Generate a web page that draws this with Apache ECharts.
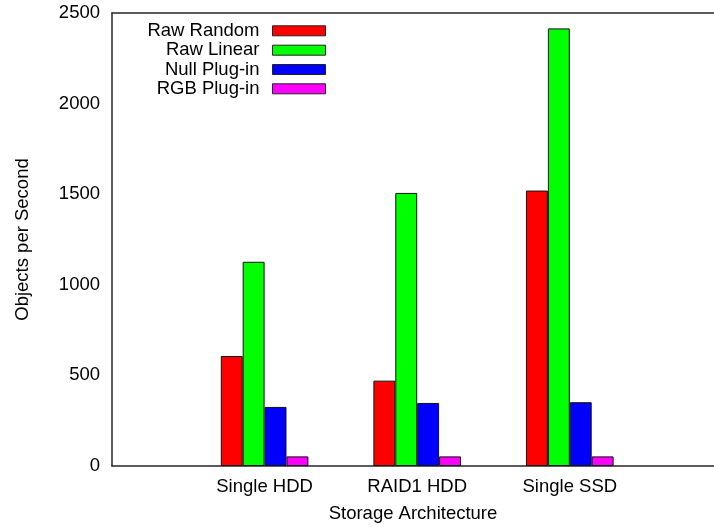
<!DOCTYPE html>
<html>
<head>
<meta charset="utf-8">
<script src="https://cdn.jsdelivr.net/npm/echarts@6/dist/echarts.min.js"></script>
<style>html,body{margin:0;padding:0;background:#fff;}#c{width:714px;height:527px;}</style>
</head>
<body>
<div id="c"></div>
<script>
const categories = ['Single HDD', 'RAID1 HDD', 'Single SSD'];
const seriesNames = ['Raw Random', 'Raw Linear', 'Null Plug-in', 'RGB Plug-in'];
const rawRandom = [607, 471, 1520];
const rawLinear = [1127, 1507, 2415];
const nullPlugin = [326, 348, 352];
const rgbPlugin = [53, 53, 53];
const yTicks = [0, 500, 1000, 1500, 2000, 2500];

const colors = ['#ff0000', '#00ff00', '#0000ff', '#ff00ff'];
const values = [rawRandom, rawLinear, nullPlugin, rgbPlugin];
const FONT = 'Liberation Sans';
const FS = 18.5;
const X_MAX = 3.945;

const chart = echarts.init(document.getElementById('c'), null, {renderer: 'canvas'});
const legendTops = [20.8, 40.2, 59.5, 78.8];
const axisLineStyle = {color: '#262626', width: 1.5};
chart.setOption({
  animation: false,
  backgroundColor: '#ffffff',
  grid: {left: 112, top: 13, right: 0, bottom: 61, show: false, containLabel: false, outerBoundsMode: 'none'},
  legend: seriesNames.map((n, i) => ({
    data: [n], orient: 'vertical', align: 'right', right: 388, top: legendTops[i], padding: 0,
    itemWidth: 53, itemHeight: 10, icon: 'rect',
    itemStyle: {borderColor: '#222', borderWidth: 1},
    textStyle: {fontFamily: FONT, fontSize: FS, color: '#000', lineHeight: 20, padding: [0, 8, 0, 0]},
    selectedMode: false
  })),
  xAxis: [{
    type: 'value', min: 0, max: X_MAX, interval: 1,
    axisLine: {show: true, onZero: false, lineStyle: axisLineStyle}, axisTick: {show: false}, splitLine: {show: false},
    axisLabel: {fontFamily: FONT, fontSize: FS, color: '#000', margin: 11, showMaxLabel: false, showMinLabel: false,
      formatter: v => (Number.isInteger(v) && v >= 1 && v <= categories.length) ? categories[v - 1] : ''},
    name: 'Storage Architecture', nameLocation: 'middle', nameGap: 38,
    nameTextStyle: {fontFamily: FONT, fontSize: FS, color: '#000'}
  }, {
    type: 'value', min: 0, max: X_MAX, position: 'top',
    axisLine: {show: true, onZero: false, lineStyle: axisLineStyle}, axisTick: {show: false},
    axisLabel: {show: false}, splitLine: {show: false}
  }],
  yAxis: {
    type: 'value', min: yTicks[0], max: yTicks[yTicks.length - 1], interval: 500,
    axisLine: {show: true, lineStyle: axisLineStyle}, axisTick: {show: false}, splitLine: {show: false},
    axisLabel: {fontFamily: FONT, fontSize: FS, color: '#000', margin: 12, padding: [4, 0, 0, 0], formatter: v => String(v)},
    name: 'Objects per Second', nameLocation: 'middle', nameGap: 80, nameRotate: 90,
    nameTextStyle: {fontFamily: FONT, fontSize: FS, color: '#000'}
  },
  series: seriesNames.map((n, i) => ({
    name: n, type: 'bar', xAxisIndex: 0,
    data: values[i].map((v, j) => [j + 1, v]),
    barWidth: 21.9, barGap: '0%',
    itemStyle: {color: colors[i], borderColor: '#111', borderWidth: 1}
  }))
});
</script>
</body>
</html>
